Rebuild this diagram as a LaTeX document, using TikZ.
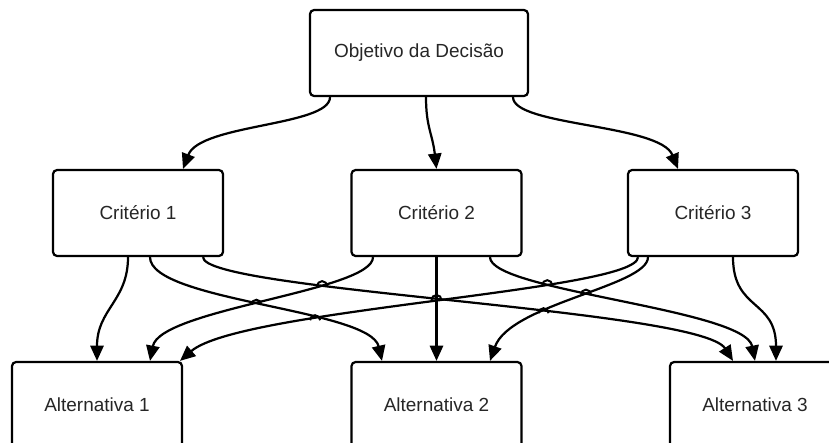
\documentclass[tikz,border=0pt]{standalone}
\usepackage{fontspec}
\setmainfont{Liberation Sans}
\usetikzlibrary{arrows.meta,intersections,calc}

\begin{document}
\begin{tikzpicture}[x=0.03cm,y=-0.03cm,
  blk/.style={draw,line width=1.9pt,rounded corners=3.5pt,minimum width=5.1cm,minimum height=2.58cm,
    font=\fontsize{16.2}{19}\selectfont,text=black!85},
  ar/.style={-{Triangle[length=0.46cm,width=0.4cm]},line width=1.9pt},
  hop/.style={line width=1.7pt}]
\useasboundingbox (0,0) rectangle (829,443);
\clip (0,0) rectangle (829,443);
% ---- goal
\node[blk,minimum width=6.54cm] (obj) at (419,53) {Objetivo da Decisão};
% ---- criteria
\node[blk] (c1) at (138,213) {Critério 1};
\node[blk] (c2) at (436.5,213) {Critério 2};
\node[blk] (c3) at (713,213) {Critério 3};
% ---- alternatives
\node[blk] (a1) at (97,405) {Alternativa 1};
\node[blk] (a2) at (436.5,405) {Alternativa 2};
\node[blk] (a3) at (755,405) {Alternativa 3};
% ---- goal to criteria
\draw[ar] ($(obj.south)+(-89,0)$) .. controls +(0,29) and +(17,-45) .. ($(c1.north)+(45,0)$);
\draw[ar] ($(obj.south)+(7,0)$) .. controls +(0,30) and +(-4,-35) .. (c2.north);
\draw[ar] ($(obj.south)+(94,0)$) .. controls +(0,29) and +(-18,-45) .. ($(c3.north)+(-35,0)$);
% ---- criteria to alternatives
\draw[ar,name path=a] ($(c1.south)+(-10,0)$) .. controls +(0,44) and +(0,-52) .. (a1.north);
\draw[ar,name path=b] ($(c1.south)+(12,0)$) .. controls +(0,44) and +(-12,-52) .. ($(a2.north)+(-54.5,0)$);
\draw[ar,name path=c] ($(c1.south)+(65,0)$) .. controls +(0,34) and +(-33,-52) .. ($(a3.north)+(-22,0)$);
\draw[ar,name path=d] ($(c2.south)+(-63.5,0)$) .. controls +(0,34) and +(10,-52) .. ($(a1.north)+(53,0)$);
\draw[ar,name path=e] (c2.south) -- (a2.north);
\draw[ar,name path=f] ($(c2.south)+(53.5,0)$) .. controls +(0,34) and +(-10,-52) .. (a3.north);
\draw[ar,name path=g] ($(c3.south)+(-75,0)$) .. controls +(0,34) and +(60,-52) .. ($(a1.north)+(83,0)$);
\draw[ar,name path=h] ($(c3.south)+(-65,0)$) .. controls +(0,29) and +(20,-57) .. ($(a2.north)+(53.5,0)$);
\draw[ar,name path=i] ($(c3.south)+(20,0)$) .. controls +(0,54) and +(0,-62) .. ($(a3.north)+(21,0)$);
% ---- line hops
\foreach \p/\q in {b/d,b/g,c/d,c/e,g/f,h/f,c/h}{
  \draw[hop,name intersections={of/.expanded=\p\space and \q,name=x}] ([xshift=-0.15cm]x-1) arc[start angle=180,end angle=0,radius=0.15cm];
}
\end{tikzpicture}
\end{document}
